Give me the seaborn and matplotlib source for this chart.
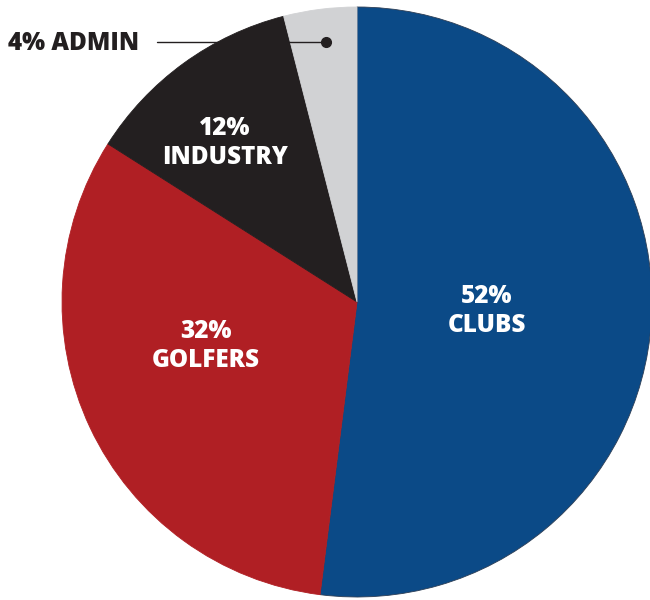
import numpy as np
import matplotlib.pyplot as plt
import seaborn as sns

# Data
labels = ['CLUBS', 'GOLFERS', 'INDUSTRY', 'ADMIN']
shares = [52, 32, 12, 4]
colors = ['#0b4a87', '#b01f24', '#231f20', '#d1d2d4']

sns.set_theme(style='white')
plt.rcParams['font.family'] = ['Open Sans', 'DejaVu Sans']

fig = plt.figure(figsize=(6.5, 6), dpi=100)
ax = fig.add_axes([0, 0, 1, 1])

# pie in pixel-like coordinates (y up)
cx, cy, r = 357, 298, 295
wedges, _ = ax.pie(shares, colors=sns.color_palette(colors), startangle=90,
                   counterclock=False, center=(cx, cy), radius=r,
                   wedgeprops=dict(linewidth=0.6, edgecolor='#3a3a3a'))
for w in wedges:
    w.set_edgecolor(w.get_facecolor())
wedges[0].set_edgecolor('#2d3e55')

# labels inside the large slices
pos = {'CLUBS': (487, 289), 'GOLFERS': (206, 254), 'INDUSTRY': (225, 457)}
for lab, s in zip(labels, shares):
    if lab in pos:
        x, y = pos[lab]
        ax.text(x, y, f'{s}%\n{lab}', color='white', fontsize=17.5, fontweight=800,
                ha='center', va='center', linespacing=1.2)

# small slice callout
ax.text(8, 557, f'{shares[3]}% {labels[3]}', color='#231f20', fontsize=17.5,
        fontweight=800, ha='left', va='center')
ax.plot([157, 326], [558, 558], color='#231f20', lw=1)
ax.plot([326], [558], 'o', color='#231f20', ms=7)

ax.set_xlim(0, 650)
ax.set_ylim(0, 600)
ax.set_aspect('equal')
ax.axis('off')

fig.savefig('out.png', dpi=100, facecolor='white')
